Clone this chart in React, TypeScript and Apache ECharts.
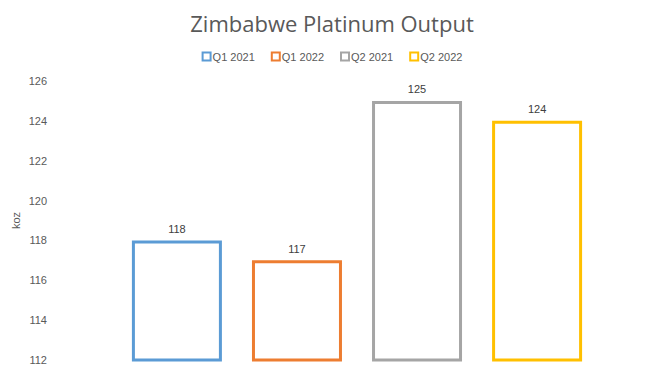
import React, { useEffect, useRef } from "react";
import * as echarts from "echarts";

const seriesNames = ["Q1 2021", "Q1 2022", "Q2 2021", "Q2 2022"];
const seriesValues = [118, 117, 125, 124];
const seriesColors = ["#5B9BD5", "#ED7D31", "#A5A5A5", "#FFC000"];
const categories = [""];
const yMin = 112;
const yMax = 126;
const yInterval = 2;

export default function App() {
  const ref = useRef<HTMLDivElement>(null);
  useEffect(() => {
    if (!ref.current) return;
    const chart = echarts.init(ref.current, undefined, { renderer: "svg" });
    const font = "'Liberation Sans', Arial, sans-serif";
    chart.setOption({
      animation: false,
      backgroundColor: "#ffffff",
      textStyle: { fontFamily: font },
      title: {
        text: "Zimbabwe Platinum Output",
        left: "center",
        top: 7,
        textStyle: { fontSize: 22, fontWeight: "normal", color: "#595959", fontFamily: "'Open Sans', sans-serif" },
      },
      legend: {
        top: 46,
        left: "center",
        itemWidth: 8,
        itemHeight: 8,
        itemGap: 16,
        icon: "rect",
        textStyle: { fontSize: 11, color: "#595959", padding: [0, 0, 0, -3] },
        data: seriesNames,
      },
      grid: { left: 60, right: 10, top: 81, bottom: 15, containLabel: false },
      xAxis: {
        type: "category",
        data: categories,
        axisLine: { show: false },
        axisTick: { show: false },
        axisLabel: { show: false },
      },
      yAxis: {
        type: "value",
        min: yMin,
        max: yMax,
        interval: yInterval,
        name: "koz",
        nameLocation: "middle",
        nameGap: 39,
        nameMoveOverlap: false,
        nameTextStyle: { fontSize: 11, color: "#595959" },
        axisLine: { show: false },
        axisTick: { show: false },
        splitLine: { show: false },
        axisLabel: { fontSize: 11, color: "#595959", margin: 13 },
      },
      series: seriesNames.map((name, i) => ({
        name,
        type: "bar",
        data: [seriesValues[i]],
        barWidth: 90,
        barGap: "33.4%",
        itemStyle: { color: "#ffffff", borderColor: seriesColors[i], borderWidth: 3 },
        label: {
          show: true,
          position: "top",
          distance: 6,
          fontSize: 11,
          color: "#404040",
        },
      })),
    });
    return () => chart.dispose();
  }, []);
  return <div ref={ref} style={{ width: 664, height: 375, position: "absolute", left: 0, top: 0 }} />;
}
